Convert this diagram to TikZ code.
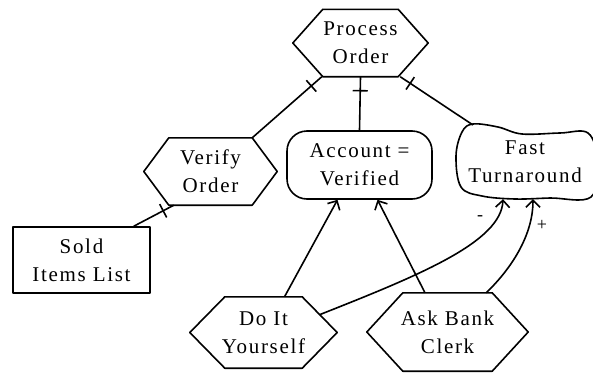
\documentclass[tikz,border=0pt]{standalone}
\usepackage{fontspec}
\setmainfont{Liberation Serif}[LetterSpace=8]
\usetikzlibrary{arrows.meta,calc,decorations.markings}

\tikzset{
  shapeline/.style={line width=1.6pt, line join=round},
  label text/.style={font=\fontsize{21}{28}\selectfont, align=center, inner sep=0pt},
  hexnode/.style={label text, draw=none, minimum width=#1},
  boxnode/.style={label text, draw, shapeline, minimum width=137pt, minimum height=66pt},
  roundnode/.style={label text, draw, shapeline, rounded corners=20pt, minimum width=145pt, minimum height=68pt},
  link/.style={line width=1.6pt},
  arrowlink/.style={line width=1.6pt, -{Straight Barb[length=7pt,width=14pt,line width=1.6pt]}},
  crossbar/.style={postaction={decorate,decoration={markings,
      mark=at position #1 with {\draw[line width=1.6pt] (0,-7.5pt) -- (0,7.5pt);}}}},
  sign/.style={font=\fontsize{18}{20}\selectfont, inner sep=0pt}
}

% hexagon outline around a named (invisible) node, #2 = inset of the corners
\newcommand\hexframe[2]{%
  \draw[shapeline] (#1.west) -- ([xshift=#2]#1.north west) -- ([xshift=-#2]#1.north east)
    -- (#1.east) -- ([xshift=-#2]#1.south east) -- ([xshift=#2]#1.south west) -- cycle;}

\begin{document}
\begin{tikzpicture}[x=1pt,y=-1pt]
\useasboundingbox (0,0) rectangle (593,372);

% goals and methods
\node[hexnode=135pt, minimum height=67pt] (PO) at (360.5,43) {Process\\Order};
\hexframe{PO}{30pt}
\node[hexnode=133pt, minimum height=67pt] (VO) at (210.5,171.5) {Verify\\Order};
\hexframe{VO}{25pt}
\node[roundnode] (AV) at (359.5,165) {Account =\\Verified};
\node[boxnode] (SIL) at (81.5,260) {Sold\\Items List};
\node[hexnode=147pt, minimum height=71pt] (DIY) at (263.5,332.5) {Do It\\Yourself};
\hexframe{DIY}{35pt}
\node[hexnode=161pt, minimum height=78pt] (ABC) at (447.5,332) {Ask Bank\\Clerk};
\hexframe{ABC}{36pt}

% softgoal cloud
\node[label text, minimum width=136pt, minimum height=74pt] (FT) at (525,162) {Fast\\Turnaround};
\draw[shapeline] plot[smooth cycle, tension=0.6] coordinates {
  (473,124) (498,127) (522,134) (560,133) (588,133) (597,160)
  (591,197) (550,198) (515,199) (482,196) (461,187) (456,156) (462,132)};
\coordinate (FTnw) at (473,125);

% decomposition links
\draw[link, crossbar=14pt] ([xshift=29pt]PO.south west) -- ([xshift=-25pt]VO.north east);
\draw[link, crossbar=14pt] (PO.south) -- (AV.north);
\draw[link, crossbar=12pt] ([xshift=-28pt]PO.south east) -- (FTnw);
\draw[link, crossbar=12pt] ([xshift=30pt]VO.south west) -- ([xshift=-17pt]SIL.north east);

% means-end links
\draw[arrowlink] ([xshift=21pt]DIY.north) -- ([xshift=-22pt]AV.south);
\draw[arrowlink] ([xshift=-22.5pt]ABC.north) -- ([xshift=18pt]AV.south);

% contributions to the softgoal
\coordinate (diyout) at ($([xshift=-35pt]DIY.north east)!0.5!(DIY.east)$);
\draw[arrowlink] (diyout) .. controls (420,275) and (501,242) .. ([xshift=-22pt]FT.south);
\draw[arrowlink] ([xshift=-42pt]ABC.north east) .. controls (515,265) and (533,232) .. ([xshift=8pt]FT.south);
\node[sign] (minus) at (480,218) {-};
\node[sign] (plus) at (542,225) {+};
\end{tikzpicture}
\end{document}
